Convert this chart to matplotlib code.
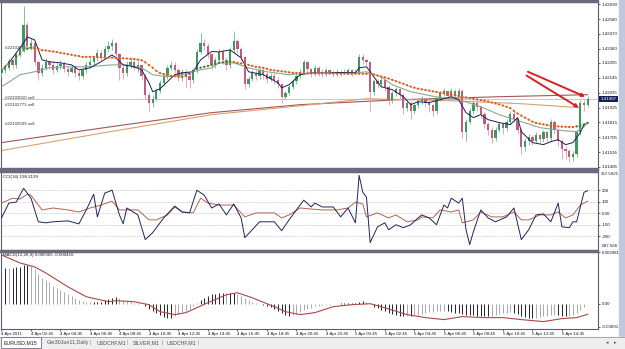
import matplotlib.pyplot as plt
import numpy as np
from matplotlib.patches import Rectangle

plt.rcParams['font.family'] = ['Liberation Sans', 'DejaVu Sans']

# EURUSD M15 bars, 4 Apr 2011 00:45 onwards (open = previous close)
closes = [
    1.4220, 1.4222, 1.4227, 1.4224, 1.4232, 1.4236, 1.4254, 1.4238, 1.4240, 1.4226,
    1.4218, 1.4222, 1.4226, 1.4224, 1.4220, 1.4223, 1.4225, 1.4221, 1.4219, 1.4222,
    1.4218, 1.4216, 1.4220, 1.4224, 1.4226, 1.4229, 1.4233, 1.4230, 1.4236, 1.4238,
    1.4240, 1.4232, 1.4222, 1.4218, 1.4224, 1.4226, 1.4222, 1.4224, 1.4216, 1.4202,
    1.4196, 1.4199, 1.4205, 1.4211, 1.4216, 1.4222, 1.4224, 1.4220, 1.4215, 1.4219,
    1.4216, 1.4213, 1.4220, 1.4234, 1.4240, 1.4238, 1.4232, 1.4224, 1.4228, 1.4234,
    1.4228, 1.4224, 1.4235, 1.4242, 1.4236, 1.4230, 1.4210, 1.4214, 1.4218, 1.4216,
    1.4220, 1.4217, 1.4214, 1.4216, 1.4213, 1.4210, 1.4200, 1.4203, 1.4208, 1.4212,
    1.4216, 1.4219, 1.4226, 1.4221, 1.4218, 1.4222, 1.4219, 1.4218, 1.4220, 1.4219,
    1.4217, 1.4219, 1.4218, 1.4219, 1.4220, 1.4218, 1.4219, 1.4230, 1.4228, 1.4226,
    1.4204, 1.4212, 1.4210, 1.4213, 1.4208, 1.4198, 1.4203, 1.4206, 1.4202, 1.4192,
    1.4196, 1.4190, 1.4194, 1.4197, 1.4199, 1.4196, 1.4194, 1.4190, 1.4199, 1.4203,
    1.4205, 1.4201, 1.4205, 1.4202, 1.4205, 1.4174, 1.4182, 1.4190, 1.4196, 1.4193,
    1.4188, 1.4180, 1.4176, 1.4170, 1.4176, 1.4180, 1.4177, 1.4182, 1.4188, 1.4184,
    1.4176, 1.4163, 1.4168, 1.4171, 1.4168, 1.4172, 1.4169, 1.4174, 1.4170, 1.4182,
    1.4176, 1.4168, 1.4162, 1.4160, 1.4156, 1.4158, 1.4174, 1.4196, 1.4194, 1.41987,
]
highs = [
    1.4222, 1.4224, 1.4229, 1.4228, 1.4234, 1.4238, 1.4268, 1.4256, 1.4244, 1.4241,
    1.4228, 1.4225, 1.4229, 1.4228, 1.4226, 1.4226, 1.4228, 1.4227, 1.4223, 1.4224,
    1.4224, 1.4220, 1.4222, 1.4226, 1.4229, 1.4231, 1.4236, 1.4235, 1.4238, 1.4242,
    1.4243, 1.4241, 1.4233, 1.4224, 1.4227, 1.4229, 1.4228, 1.4227, 1.4225, 1.4218,
    1.4204, 1.4202, 1.4207, 1.4213, 1.4218, 1.4224, 1.4227, 1.4226, 1.4222, 1.4221,
    1.4221, 1.4218, 1.4222, 1.4236, 1.4248, 1.4243, 1.4240, 1.4233, 1.4230, 1.4236,
    1.4236, 1.4230, 1.4237, 1.4249, 1.4243, 1.4237, 1.4231, 1.4216, 1.4220, 1.4220,
    1.4222, 1.4222, 1.4219, 1.4218, 1.4218, 1.4215, 1.4211, 1.4205, 1.4210, 1.4214,
    1.4218, 1.4221, 1.4228, 1.4227, 1.4222, 1.4224, 1.4223, 1.4221, 1.4222, 1.4221,
    1.4220, 1.4221, 1.4220, 1.4221, 1.4222, 1.4221, 1.4221, 1.4232, 1.4232, 1.4229,
    1.4227, 1.4214, 1.4214, 1.4215, 1.4214, 1.4209, 1.4205, 1.4208, 1.4207, 1.4203,
    1.4198, 1.4197, 1.4196, 1.4199, 1.4201, 1.4200, 1.4198, 1.4195, 1.4201, 1.4205,
    1.4207, 1.4205, 1.4207, 1.4206, 1.4207, 1.4206, 1.4184, 1.4192, 1.4198, 1.4198,
    1.4194, 1.4189, 1.4182, 1.4178, 1.4178, 1.4182, 1.4182, 1.4184, 1.4190, 1.4190,
    1.4185, 1.4177, 1.4170, 1.4173, 1.4172, 1.4174, 1.4173, 1.4176, 1.4175, 1.4184,
    1.4183, 1.4177, 1.4169, 1.4164, 1.4162, 1.4160, 1.4176, 1.4198, 1.4198, 1.4201,
]
lows = [
    1.4215, 1.4218, 1.4220, 1.4221, 1.4222, 1.4230, 1.4234, 1.4236, 1.4235, 1.4224,
    1.4213, 1.4216, 1.4220, 1.4221, 1.4217, 1.4219, 1.4221, 1.4219, 1.4216, 1.4218,
    1.4215, 1.4213, 1.4214, 1.4218, 1.4222, 1.4224, 1.4227, 1.4228, 1.4229, 1.4234,
    1.4235, 1.4230, 1.4213, 1.4214, 1.4216, 1.4222, 1.4220, 1.4219, 1.4213, 1.4199,
    1.4190, 1.4193, 1.4197, 1.4203, 1.4209, 1.4214, 1.4220, 1.4218, 1.4212, 1.4212,
    1.4208, 1.4207, 1.4211, 1.4218, 1.4232, 1.4235, 1.4229, 1.4221, 1.4222, 1.4226,
    1.4225, 1.4220, 1.4222, 1.4233, 1.4233, 1.4227, 1.4206, 1.4208, 1.4212, 1.4213,
    1.4214, 1.4214, 1.4211, 1.4212, 1.4210, 1.4207, 1.4196, 1.4199, 1.4202, 1.4206,
    1.4210, 1.4214, 1.4218, 1.4218, 1.4215, 1.4216, 1.4216, 1.4215, 1.4216, 1.4217,
    1.4215, 1.4216, 1.4216, 1.4217, 1.4217, 1.4216, 1.4217, 1.4218, 1.4225, 1.4224,
    1.4190, 1.4202, 1.4207, 1.4208, 1.4205, 1.4194, 1.4196, 1.4201, 1.4199, 1.4188,
    1.4190, 1.4184, 1.4188, 1.4192, 1.4195, 1.4193, 1.4189, 1.4186, 1.4188, 1.4197,
    1.4201, 1.4198, 1.4199, 1.4199, 1.4200, 1.4170, 1.4168, 1.4180, 1.4188, 1.4190,
    1.4185, 1.4177, 1.4172, 1.4166, 1.4168, 1.4174, 1.4173, 1.4175, 1.4180, 1.4182,
    1.4173, 1.4158, 1.4160, 1.4165, 1.4165, 1.4166, 1.4166, 1.4167, 1.4167, 1.4168,
    1.4173, 1.4164, 1.4154, 1.4154, 1.4152, 1.4153, 1.4156, 1.4172, 1.4190, 1.4193,
]
first_open = 1.4218

# dotted trend MA, one value per bar (green while rising, orange otherwise)
trend_ma = [
    1.4220, 1.42227, 1.4225, 1.4227, 1.4230, 1.4232, 1.4235, 1.4236, 1.4237, 1.4236,
    1.4236, 1.4235, 1.42348, 1.42344, 1.4234, 1.42336, 1.4233, 1.42326, 1.4232, 1.42316,
    1.4231, 1.42306, 1.4230, 1.4230, 1.4230, 1.4230, 1.42298, 1.42297, 1.42296, 1.42295,
    1.42294, 1.42293, 1.42292, 1.4229, 1.42288, 1.42286, 1.42284, 1.4228, 1.42275, 1.4226,
    1.4224, 1.4222, 1.42197, 1.4218, 1.42172, 1.42168, 1.4216, 1.42157, 1.42153, 1.4215,
    1.4216, 1.42175, 1.42197, 1.42212, 1.4222, 1.42227, 1.42234, 1.42241, 1.42249, 1.42256,
    1.4226, 1.42264, 1.42265, 1.42262, 1.42256, 1.42252, 1.42249, 1.42241, 1.42234, 1.42227,
    1.42223, 1.42219, 1.42212, 1.42204, 1.4220, 1.42197, 1.42193, 1.4219, 1.42186, 1.42182,
    1.42181, 1.4218, 1.4218, 1.42179, 1.42179, 1.42178, 1.42178, 1.42178, 1.42177, 1.42177,
    1.42177, 1.42176, 1.42176, 1.42176, 1.42175, 1.42175, 1.42175, 1.42175, 1.42175, 1.42175,
    1.42175, 1.4217, 1.42162, 1.42155, 1.42148, 1.4214, 1.4213, 1.4212, 1.4211, 1.42101,
    1.4209, 1.4208, 1.42072, 1.42065, 1.4206, 1.42055, 1.4205, 1.42045, 1.4204, 1.42035,
    1.4203, 1.42025, 1.4202, 1.42015, 1.4201, 1.42005, 1.4200, 1.41995, 1.4199, 1.41985,
    1.4198, 1.41975, 1.4197, 1.41962, 1.41955, 1.41948, 1.4194, 1.4193, 1.4192, 1.4190,
    1.4188, 1.41865, 1.4185, 1.41835, 1.4182, 1.4181, 1.41805, 1.4180, 1.41795, 1.4179,
    1.41787, 1.41785, 1.41783, 1.41782, 1.4178, 1.4178, 1.41785, 1.4179, 1.4180, 1.4181,
]

# fast MA (navy) and slow MA (grey-green), read at selected bars
fast_ma_bar = [0, 2, 4, 6, 7, 9, 10, 11, 13, 16, 19, 21, 24, 27, 30, 31, 33, 36, 38, 40,
               41, 43, 45, 47, 49, 52, 54, 57, 59, 62, 65, 67, 71, 75, 76, 78, 81, 84, 88, 92,
               96, 97, 99, 101, 103, 106, 109, 111, 113, 116, 119, 122, 124, 126, 128, 130, 132, 135, 138, 140,
               141, 144, 147, 149, 151, 153, 155, 157, 158, 159]
fast_ma = [1.4220, 1.42256, 1.4233, 1.42404, 1.42448, 1.42426, 1.42352, 1.42278, 1.42264, 1.42256,
           1.42241, 1.42204, 1.42219, 1.42264, 1.42315, 1.42293, 1.42241, 1.42227, 1.42204, 1.42108,
           1.42042, 1.42064, 1.42116, 1.42168, 1.42182, 1.4219, 1.42278, 1.4234, 1.42337, 1.42352,
           1.42293, 1.4219, 1.42168, 1.42108, 1.42071, 1.42094, 1.42168, 1.42182, 1.4218, 1.42185,
           1.42182, 1.42219, 1.42227, 1.42153, 1.42079, 1.42057, 1.42005, 1.41946, 1.41968, 1.41961,
           1.41983, 1.42005, 1.41983, 1.41887, 1.4185, 1.41872, 1.41835, 1.41813, 1.41798, 1.4185,
           1.41746, 1.41665, 1.4165, 1.41672, 1.41687, 1.4165, 1.41665, 1.41739, 1.41798, 1.41813]
slow_ma_bar = [0, 3, 5, 9, 13, 18, 23, 30, 34, 38, 41, 45, 49, 54, 57, 59, 63, 67, 72, 78,
               81, 96, 99, 103, 106, 111, 119, 124, 130, 135, 141, 146, 152, 156, 158, 159]
slow_ma = [1.42079, 1.42131, 1.42168, 1.4219, 1.42219, 1.42227, 1.42227, 1.42241, 1.42241, 1.42219,
           1.42168, 1.42153, 1.42168, 1.42204, 1.42219, 1.42256, 1.42256, 1.42219, 1.4219, 1.42168,
           1.42175, 1.42182, 1.4219, 1.42153, 1.42094, 1.42042, 1.41998, 1.41983, 1.41931, 1.41872,
           1.4182, 1.41776, 1.41754, 1.41746, 1.41783, 1.41813]

# two long MAs (brown)
long_ma1_bar = [0, 28, 57, 81, 108, 135, 159]
long_ma1 = [1.41665, 1.41776, 1.41887, 1.41946, 1.41983, 1.42005, 1.42020]
long_ma2_bar = [0, 28, 57, 81, 99, 122, 141, 157]
long_ma2 = [1.41606, 1.41739, 1.41872, 1.41938, 1.41990, 1.41975, 1.41953, 1.41924]

# open orders and the two hand-drawn arrows (bar, price)
order_labels = ["#22102069 sell", "#22103010 sell", "#22102773 sell", "#22102509 sell"]
order_prices = [1.42367, 1.41992, 1.41946, 1.41805]
arrow_from = [(142.8, 1.42190), (142.4, 1.42162)]
arrow_to = [(158.3, 1.42005), (156.6, 1.41924)]

price_ticks = [1.42690, 1.42580, 1.42470, 1.42360, 1.42255, 1.42145, 1.42035,
               1.41925, 1.41815, 1.41705, 1.41595, 1.41485]
last_price = 1.41987

# CCI(14) and its slower companion line
cci_bar = [0, 2, 4, 6, 8, 10, 12, 14, 18, 21, 23, 25, 26, 28, 30, 32, 33, 34, 37, 39,
           41, 44, 47, 49, 51, 53, 55, 57, 59, 61, 63, 65, 66, 68, 70, 74, 76, 78, 80, 82,
           84, 85, 87, 90, 92, 94, 96, 97, 98, 99, 100, 102, 104, 105, 107, 109, 111, 113, 114, 116,
           118, 120, 121, 122, 124, 125, 126, 127, 128, 130, 132, 134, 137, 139, 141, 143, 145, 147, 149, 151,
           152, 154, 155, 156, 158, 159]
cci_main = [-41, 89, 98, 219, 132, -75, -84, -75, -67, -93, 29, 167, -32, 176, 202, -15, -93, 46, -15, -231,
            -171, -41, 63, 11, 3, 202, 158, 46, 81, -15, 81, -41, -214, -145, -75, -75, -153, -58, 29, 115,
            55, 89, 55, 55, -32, 46, -84, 332, 184, 141, -257, -119, -84, -145, -101, -127, -101, -41, -15, -41,
            -101, 72, 46, 132, 89, 132, -145, -275, -162, 29, -41, -75, -32, 46, -231, -145, -15, -6, -75, 89,
            -119, -127, -75, -75, 184, 198]
cci_sig_bar = [0, 3, 5, 7, 8, 11, 14, 18, 21, 24, 27, 30, 32, 34, 37, 40, 42, 45, 47, 49,
               52, 54, 56, 59, 63, 66, 69, 74, 76, 78, 81, 84, 87, 91, 94, 96, 98, 99, 102, 105,
               107, 110, 113, 114, 117, 119, 122, 124, 125, 128, 130, 133, 136, 139, 141, 143, 146, 149, 151, 153,
               155, 157, 159]
cci_sig = [89, 132, 124, 167, 158, 29, 46, 29, 11, 46, 72, 106, 29, 29, 29, -58, -58, -15, 55, 11,
           3, 132, 89, 72, 72, -32, 3, 3, -41, -15, 46, 37, 29, 29, 46, 98, 80, -32, 3, -41,
           -15, -75, -58, -32, -41, 29, 11, 29, -84, -58, 11, -32, -32, 11, -58, -58, -15, -15, 11, -41,
           -15, 72, 106]
cci_levels = [200, 100, 0, -100, -200]

# MACD(12,26,9): main per bar and signal, in units of 1e-4
macd_main = [
    14.5, 14.6, 14.4, 14.5, 14.7, 14.8, 15.5, 15.8, 15.4, 13.9,
    12.0, 10.4, 9.6, 8.7, 7.2, 6.6, 5.8, 5.0, 4.1, 3.2,
    2.4, 1.5, 1.0, 0.9, 0.6, 0.6, 0.7, 0.9, 1.4, 1.9,
    2.4, 2.6, 2.2, 1.6, 1.1, 0.8, 0.5, 0.3, 0.1, -0.8,
    -1.9, -2.9, -3.8, -4.6, -5.2, -5.6, -5.7, -5.0, -4.2, -3.4,
    -2.7, -1.9, -0.9, 0.4, 1.5, 2.5, 3.3, 3.9, 4.2, 4.4,
    4.5, 4.3, 4.4, 4.6, 4.0, 3.1, 2.2, 1.4, 0.7, 0.3,
    0.1, -0.4, -0.9, -1.4, -2.0, -2.8, -3.6, -4.3, -4.8, -4.5,
    -3.9, -3.2, -2.5, -2.0, -1.5, -1.0, -0.8, -0.6, -0.5, -0.3,
    -0.1, 0.0, 0.2, 0.3, 0.4, 0.4, 0.5, 0.9, 1.0, 0.8,
    -0.2, -1.2, -1.8, -2.3, -2.8, -3.5, -4.0, -4.4, -4.7, -4.9,
    -4.8, -4.9, -4.6, -4.3, -3.9, -3.5, -3.2, -3.1, -3.0, -2.8,
    -2.7, -2.8, -3.1, -3.5, -3.7, -3.9, -4.3, -4.5, -4.6, -4.7,
    -4.8, -4.9, -4.9, -4.8, -4.4, -4.1, -3.8, -3.6, -3.3, -3.5,
    -4.1, -4.8, -5.3, -5.6, -5.8, -5.6, -5.2, -4.9, -4.7, -4.4,
    -4.3, -4.5, -4.7, -4.9, -4.8, -4.3, -3.6, -2.5, -1.3, 0.05,
]
macd_sig_bar = [0, 5, 9, 12, 18, 23, 29, 31, 36, 40, 43, 47, 50, 56, 61, 64, 68, 74, 77, 81,
                85, 90, 95, 100, 103, 110, 115, 120, 125, 131, 136, 141, 147, 152, 156, 159]
macd_sig = [19.7, 16.5, 14.9, 12.5, 6.9, 2.9, 0.9, 1.3, 0.9, -0.3, -3.1, -4.3, -3.5, 0.5, 3.7, 4.5,
            2.5, -1.1, -3.1, -4.3, -3.5, -1.1, -0.3, 0.1, -1.1, -4.3, -5.5, -6.3, -5.1, -5.5, -5.5,
            -6.3, -7.1, -5.9, -5.5, -4.16]

time_bars = list(range(0, 153, 8))
time_labels = ["4 Apr 2011", "4 Apr 02:45", "4 Apr 04:45", "4 Apr 06:45", "4 Apr 08:45",
               "4 Apr 10:45", "4 Apr 12:45", "4 Apr 14:45", "4 Apr 16:45", "4 Apr 18:45",
               "4 Apr 20:45", "4 Apr 22:45", "5 Apr 00:45", "5 Apr 02:45", "5 Apr 04:45",
               "5 Apr 06:45", "5 Apr 08:45", "5 Apr 10:45", "5 Apr 12:45", "5 Apr 14:45"]
tabs = ["EURUSD,M15", "Ger30Jun11,Daily", "USDCHF,M1", "SILVER,M1", "USDCHF,M1"]

W, H = 625, 349
fig = plt.figure(figsize=(W / 100, H / 100), dpi=100)
fig.patch.set_facecolor('white')


def px_axes(x0, y0, x1, y1):
    return fig.add_axes([x0 / W, 1 - y1 / H, (x1 - x0) / W, (y1 - y0) / H])


frame = '#5c5c70'
txt = '#1a1a1a'
fs = 3.2
xlim = (-0.27, 161.8)

# window chrome: right strip and panel separators
fig.patches.append(Rectangle((619 / W, 12 / H), 6 / W, 1 - 12 / H, transform=fig.transFigure,
                             color='#bccadb', zorder=0))
for y0, y1 in [(0, 2), (168, 171.5), (249.5, 252)]:
    fig.patches.append(Rectangle((0, 1 - y1 / H), 598 / W, (y1 - y0) / H,
                                 transform=fig.transFigure, color='#6a6a7c', zorder=5))


def style(ax):
    ax.set_xlim(*xlim)
    ax.set_facecolor('white')
    for s in ax.spines.values():
        s.set_color(frame)
        s.set_linewidth(0.8)
    ax.yaxis.tick_right()
    ax.tick_params(axis='y', length=1.6, width=0.5, pad=1.2, labelsize=fs, colors=txt)
    ax.tick_params(axis='x', bottom=False, labelbottom=False)


# ---------------- main price panel ----------------
ax = px_axes(0.5, 2, 598, 168.5)
style(ax)
ax.set_ylim(1.41473, 1.42707)

n = len(closes)
bars = np.arange(n)
c = np.array(closes)
o = np.array([first_open] + closes[:-1])
h = np.array(highs)
l = np.array(lows)
up = c >= o

ax.axhline(last_price, color='#c8c8c8', lw=0.7, zorder=1)
ax.plot(long_ma1_bar, long_ma1, color='#a4555a', lw=0.8, zorder=2)
ax.plot(long_ma2_bar, long_ma2, color='#d9a070', lw=0.8, zorder=2)

ax.vlines(bars[up], l[up], h[up], color='#74b890', lw=0.6, zorder=3)
ax.vlines(bars[~up], l[~up], h[~up], color='#dc9cb2', lw=0.6, zorder=3)
ax.bar(bars[up], (c - o)[up], bottom=o[up], width=0.62, color='#3a9a5e', lw=0, zorder=4)
ax.bar(bars[~up], (o - c)[~up], bottom=c[~up], width=0.62, color='#c25c7c', lw=0, zorder=4)

ax.plot(slow_ma_bar, slow_ma, color='#8aa896', lw=0.8, zorder=5)
ax.plot(fast_ma_bar, fast_ma, color='#1e1e5a', lw=0.7, zorder=6)

tm = np.array(trend_ma)
rising = np.r_[True, tm[1:] > tm[:-1]]
ax.plot(bars, tm, color='#efb38a', lw=0.6, zorder=6)
ax.scatter(bars, tm, s=2.6, c=np.where(rising, '#2f7d3c', '#e0561a'), lw=0, zorder=7)

for start, end in zip(arrow_from, arrow_to):
    ax.annotate('', xy=end, xytext=start,
                arrowprops=dict(arrowstyle='-|>', color='#d42222', lw=1.4,
                                mutation_scale=4.5, shrinkA=0, shrinkB=0), zorder=8)

for k, (lab, p) in enumerate(zip(order_labels, order_prices)):
    ax.text(1, p, lab, fontsize=fs, color='#303040', va='center', ha='left',
            zorder=2 if k == 0 else 8)

ax.set_yticks(price_ticks)
ax.set_yticklabels([f"{p:.5f}" for p in price_ticks])
ax.text(1.004, last_price, f"{last_price:.5f}", transform=ax.get_yaxis_transform(),
        fontsize=fs, color='white', va='center', ha='left', zorder=10,
        bbox=dict(boxstyle='square,pad=0.25', fc='#15205a', ec='none'))

# ---------------- CCI panel ----------------
ax2 = px_axes(0.5, 171.5, 598, 249.5)
style(ax2)
ax2.set_ylim(-318, 366)
for lv in cci_levels:
    ax2.axhline(lv, color='#b8b8b8', lw=0.5, ls=(0, (1.5, 1.5)), zorder=1)
ax2.plot(cci_sig_bar, cci_sig, color='#b36454', lw=0.7, zorder=2)
ax2.plot(cci_bar, cci_main, color='#23235e', lw=0.7, zorder=3)
ax2.set_yticks(cci_levels)
ax2.set_yticklabels(['200', '100', '0.00', '-100', '-200'])
ax2.text(1.004, 0.97, '357.5921', transform=ax2.transAxes, fontsize=fs, color=txt, va='center')
ax2.text(1.004, 0.05, '-387.566', transform=ax2.transAxes, fontsize=fs, color=txt, va='center')
ax2.text(0.004, 0.93, "CCI(14) 198.2199", transform=ax2.transAxes,
         fontsize=fs, color=txt, va='center')

# ---------------- MACD panel ----------------
ax3 = px_axes(0.5, 252, 598, 328.5)
style(ax3)
ax3.set_ylim(-0.000988, 0.00209)
mm = np.array(macd_main) / 1e4
growing = np.r_[True, np.abs(mm[1:]) >= np.abs(mm[:-1])]
ax3.vlines(bars, 0, mm, colors=np.where(growing, '#222228', '#a8a8b0'), lw=0.7, zorder=2)
ax3.plot(macd_sig_bar, np.array(macd_sig) / 1e4, color='#a84848', lw=0.8, zorder=3)
ax3.set_yticks([0.002081, 0.0, -0.00091])
ax3.set_yticklabels(['0.002081', '0.00', '-0.00091'])
ax3.text(0.004, 0.955, "MACD(12,26,9) 0.000005 -0.000416", transform=ax3.transAxes,
         fontsize=fs, color=txt, va='center')

ax3.tick_params(axis='x', bottom=True, labelbottom=True, length=1.6, width=0.5,
                pad=1.0, labelsize=fs, colors=txt)
ax3.set_xticks(time_bars)
ax3.set_xticklabels(time_labels, ha='left')

# ---------------- tab bar ----------------
fig.patches.append(Rectangle((0, 0), 1, 12 / H, transform=fig.transFigure,
                             color='#eeeeee', zorder=1))
fig.lines.append(plt.Line2D([0, 1], [12 / H, 12 / H], transform=fig.transFigure,
                            color='#9a9aa6', lw=0.6))
fig.patches.append(Rectangle((1 / W, 1.5 / H), 40 / W, 10.5 / H, transform=fig.transFigure,
                             fc='white', ec='#707080', lw=0.6, zorder=2))
tab_x = [4, 47, 97, 133, 167]
sep_x = [90, 127, 162, 198]
for t, xx in zip(tabs, tab_x):
    fig.text(xx / W, 6.5 / H, t, fontsize=3.8, color='#202020' if xx == 4 else '#505058',
             va='center', ha='left', zorder=3)
for xx in sep_x:
    fig.text(xx / W, 6.5 / H, '|', fontsize=3.8, color='#9090a0', va='center', ha='center')
fig.text(606 / W, 6.5 / H, '\u25c2', fontsize=3.5, color='#505058', va='center',
         family='DejaVu Sans')
fig.text(614 / W, 6.5 / H, '\u25b8', fontsize=3.5, color='#505058', va='center',
         family='DejaVu Sans')

fig.savefig('out.png', dpi=100)
